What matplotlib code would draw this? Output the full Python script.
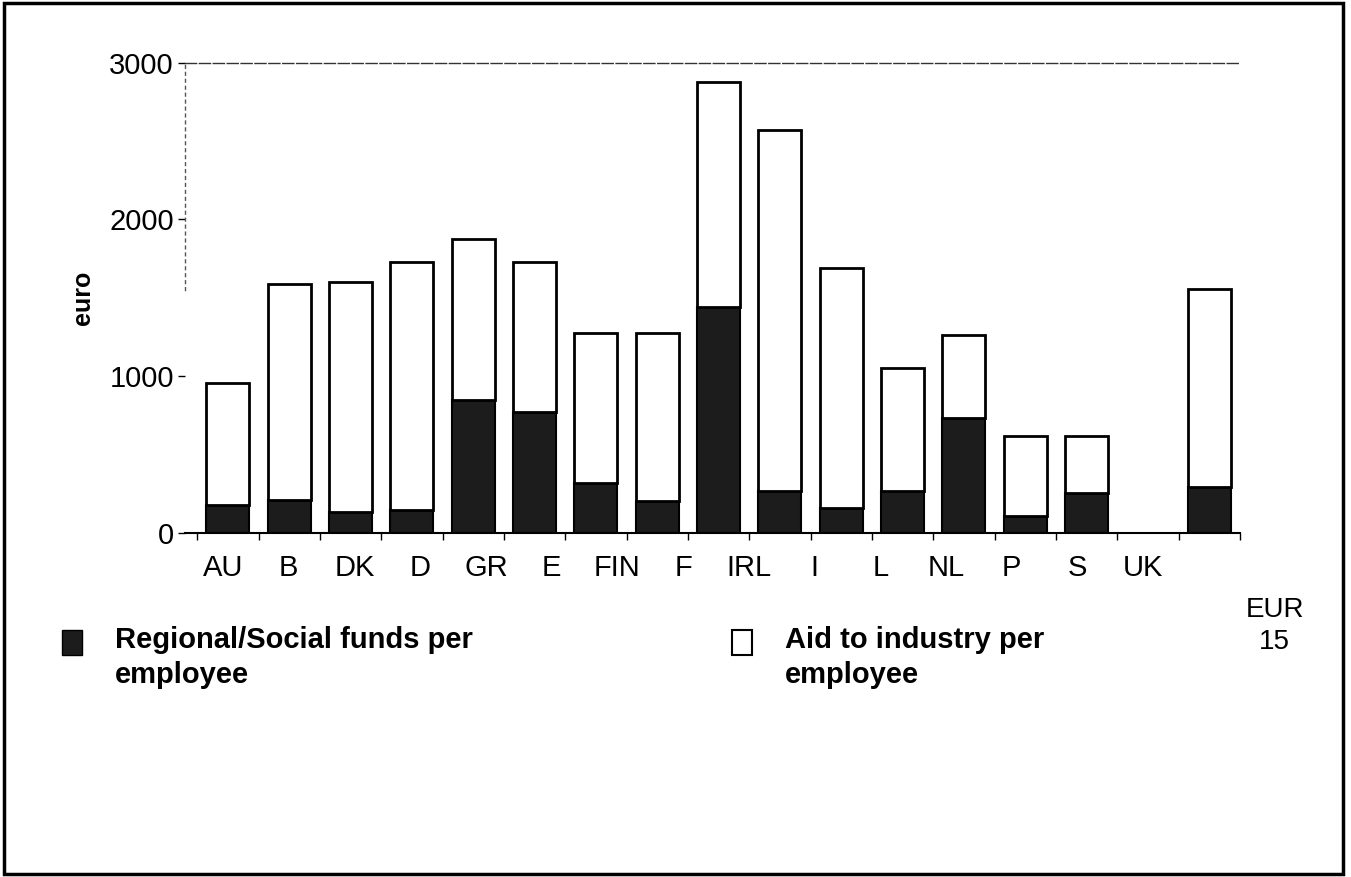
import matplotlib
matplotlib.use("Agg")
import matplotlib.pyplot as plt
from matplotlib.patches import Patch, Rectangle
from matplotlib.legend_handler import HandlerPatch
import numpy as np

plt.rcParams['font.family'] = ['Liberation Sans', 'DejaVu Sans']

# values (euro per employee)
countries = ['AU', 'B', 'DK', 'D', 'GR', 'E', 'FIN', 'F', 'IRL', 'I', 'L', 'NL', 'P', 'S', 'UK']
eu_label = 'EUR\n15'
regional = [177, 209, 134, 145, 847, 768, 315, 204, 1438, 268, 160, 268, 734, 108, 251, 294]
aid = [776, 1376, 1468, 1584, 1027, 961, 957, 1068, 1440, 2302, 1531, 785, 526, 509, 366, 1261]
yticks = [0, 1000, 2000, 3000]
legend_labels = ['Regional/Social funds per\nemployee', 'Aid to industry per\nemployee']

dark = '#1c1c1c'

# one empty slot between UK and the EU average
x = np.array(list(range(len(countries))) + [len(countries) + 1])
# in the scan the category labels sit on a slightly wider spacing than the bars
label_x = -0.08 + 1.0715 * x

fig = plt.figure(figsize=(13.51, 8.77), dpi=100)
ax = fig.add_axes([0.1369, 0.3926, 0.7809, 0.5359])

ax.bar(x, regional, width=0.7, color=dark, edgecolor='black', linewidth=1.5)
ax.bar(x, aid, width=0.7, bottom=regional, color='white', edgecolor='black', linewidth=2)

ax.set_xlim(-0.7, 16.455)
ax.set_ylim(0, 3000)

ax.set_yticks(yticks)
ax.tick_params(axis='y', labelsize=21, length=5, width=1, pad=3)

ax.set_xticks(label_x[:-1])
ax.set_xticklabels(countries)
ax.tick_params(axis='x', which='major', labelsize=21, length=0, pad=15)
ax.set_xticks(np.arange(-0.5, 17, 1.0), minor=True)
ax.tick_params(axis='x', which='minor', length=5, width=1)

ax.annotate(eu_label, xy=(label_x[-1], 0), xycoords=('data', 'axes fraction'),
            xytext=(0, -46), textcoords='offset points', ha='center', va='top',
            fontsize=20, multialignment='center', linespacing=1.3,
            annotation_clip=False)

ax.set_ylabel('euro', fontsize=18, fontweight='bold', labelpad=10)

ax.spines['right'].set_visible(False)
ax.spines['bottom'].set_linewidth(1.5)
ax.spines['top'].set_linestyle((0, (8, 2)))
ax.spines['top'].set_linewidth(1)
ax.spines['top'].set_color('#333333')
ax.spines['left'].set_linestyle((0, (2, 3)))
ax.spines['left'].set_linewidth(1)
ax.spines['left'].set_color('#555555')
ax.spines['left'].set_bounds(1550, 3000)


def raised_square(legend, orig_handle, xdescent, ydescent, width, height, fontsize):
    # keep the legend key level with the first line of its label
    return Rectangle((-xdescent, -ydescent + 0.65 * height), width, height)


handles = [Patch(facecolor=dark, edgecolor='black'),
           Patch(facecolor='white', edgecolor='black', linewidth=1.5)]
leg = fig.legend(handles, legend_labels, loc='upper left',
                 bbox_to_anchor=(62 / 1351, 1 - 626 / 877),
                 ncol=2, frameon=False, prop=dict(weight='bold', size=21),
                 handlelength=0.68, handleheight=0.9, handletextpad=1.13,
                 columnspacing=8.9, borderpad=0, borderaxespad=0,
                 handler_map={Patch: HandlerPatch(patch_func=raised_square)})
for t in leg.get_texts():
    t.set_linespacing(1.3)

fig.add_artist(Rectangle((0.003, 0.003), 0.991, 0.994, transform=fig.transFigure,
                         fill=False, linewidth=2.5, edgecolor='black'))

fig.savefig('out.png', dpi=100)
